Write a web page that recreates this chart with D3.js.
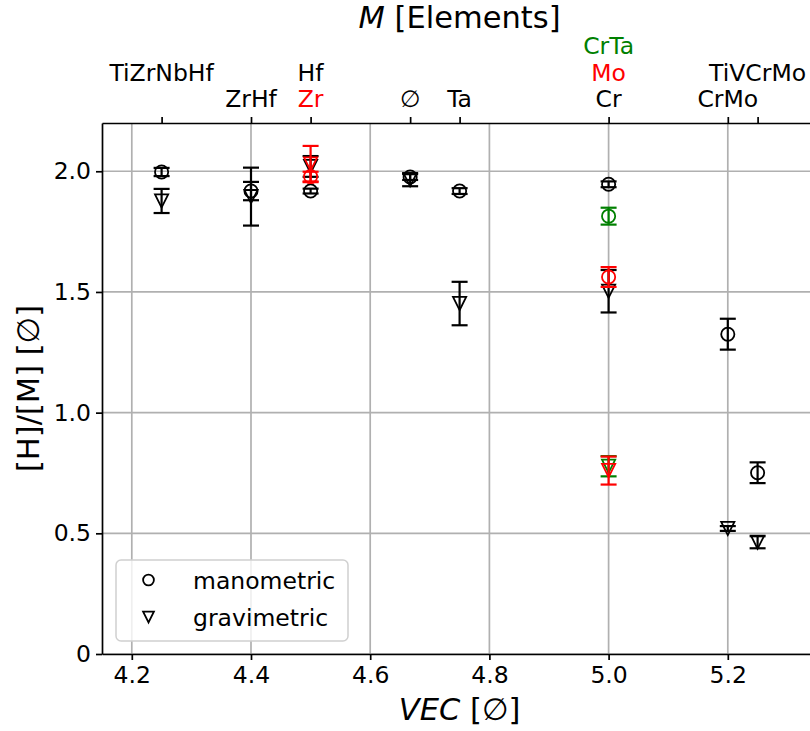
<!DOCTYPE html>
<html>
<head>
<meta charset="utf-8">
<script src="https://cdn.jsdelivr.net/npm/d3@7"></script>
<style>
  body { margin: 0; background: #fff; }
  svg { display: block; font-family: "DejaVu Sans", sans-serif; }
</style>
</head>
<body>
<svg id="chart" width="810" height="731"></svg>
<script>
// Hydrogen uptake [H]/[M] against valence electron count, per alloy element.
const elements = ['TiZrNbHf', 'ZrHf', 'Hf', 'Zr', '∅', 'Ta', 'Cr', 'Mo', 'CrTa', 'CrMo', 'TiVCrMo'];
const vec = [4.25, 4.4, 4.5, 4.5, 4.667, 4.75, 5.0, 5.0, 5.0, 5.2, 5.25];
const colors = ['black', 'black', 'black', 'red', 'black', 'black', 'black', 'red', 'green', 'black', 'black'];
const manometric = [1.997, 1.918, 1.918, 1.978, 1.976, 1.918, 1.946, 1.562, 1.814, 1.325, 0.751];
const manometricErr = [0.017, 0.038, 0.01, 0.02, 0.012, 0.012, 0.012, 0.041, 0.035, 0.064, 0.043];
const gravimetric = [1.877, 1.895, 2.02, 2.03, 1.965, 1.452, 1.503, 0.76, 0.778, 0.52, 0.463];
const gravimetricErr = [0.05, 0.12, 0.043, 0.075, 0.027, 0.09, 0.088, 0.058, 0.042, 0.01, 0.025];

const xTicks = [4.2, 4.4, 4.6, 4.8, 5.0, 5.2];
const yTicks = [0, 0.5, 1.0, 1.5, 2.0];
// top axis: one tick per VEC, labels stacked bottom-up
const topTicks = [4.25, 4.4, 4.5, 4.667, 4.75, 5.0, 5.2, 5.25];
const topLabels = [['TiZrNbHf', ''], ['ZrHf'], ['Hf', 'Zr'], ['∅'], ['Ta'], ['CrTa', 'Mo', 'Cr'], ['CrMo'], ['TiVCrMo', '']];

const svg = d3.select('#chart');
const margin = { left: 102, top: 123, bottom: 654 };
const x = d3.scaleLinear().domain([4.15, 5.35]).range([margin.left, 817.2]);
const y = d3.scaleLinear().domain([0, 2.2]).range([margin.bottom, margin.top]);

const tickFont = 23.5;
const labelFont = 30.5;
const lw = 1.7;

// grid
const grid = svg.append('g').attr('stroke', '#b0b0b0').attr('stroke-width', lw);
xTicks.forEach((t) => {
  grid.append('line').attr('x1', x(t)).attr('x2', x(t)).attr('y1', margin.top).attr('y2', margin.bottom);
});
yTicks.forEach((t) => {
  grid.append('line').attr('x1', margin.left).attr('x2', 820).attr('y1', y(t)).attr('y2', y(t));
});

// axes
function styleAxis(g) {
  g.selectAll('.domain').attr('stroke-width', lw);
  g.selectAll('.tick line').attr('stroke-width', lw);
  g.selectAll('text').attr('font-size', tickFont).attr('font-family', '"DejaVu Sans", sans-serif').attr('fill', '#000');
}

svg.append('g')
  .attr('transform', `translate(0,${margin.bottom})`)
  .call(d3.axisBottom(x).tickValues(xTicks).tickFormat(d3.format('.1f')).tickSize(6).tickPadding(6).tickSizeOuter(0))
  .call(styleAxis);

svg.append('g')
  .attr('transform', `translate(${margin.left},0)`)
  .call(d3.axisLeft(y).tickValues(yTicks).tickFormat((d) => (d === 0 ? '0' : d3.format('.1f')(d))).tickSize(6).tickPadding(5).tickSizeOuter(0))
  .call(styleAxis);

svg.append('g')
  .attr('transform', `translate(0,${margin.top})`)
  .call(d3.axisTop(x).tickValues(topTicks).tickFormat('').tickSize(6).tickSizeOuter(0))
  .call(styleAxis);

// top labels, last line sits just above the ticks
const colorOf = (name) => {
  const i = elements.indexOf(name);
  return i < 0 ? 'black' : colors[i];
};
const lineH = 26.5;
topTicks.forEach((t, i) => {
  const lines = topLabels[i];
  lines.forEach((txt, j) => {
    if (!txt) return;
    svg.append('text')
      .attr('x', x(t))
      .attr('y', 107 - (lines.length - 1 - j) * lineH)
      .attr('text-anchor', 'middle')
      .attr('font-size', tickFont)
      .attr('fill', colorOf(txt))
      .text(txt);
  });
});

// axis titles
const cx = (margin.left + 817.2) / 2;
const title = svg.append('text').attr('x', cx).attr('y', 28).attr('text-anchor', 'middle').attr('font-size', labelFont);
title.append('tspan').attr('font-style', 'italic').text('M');
title.append('tspan').text(' [Elements]');

const xl = svg.append('text').attr('x', cx).attr('y', 720).attr('text-anchor', 'middle').attr('font-size', labelFont);
xl.append('tspan').attr('font-style', 'italic').text('VEC');
xl.append('tspan').text(' [∅]');

svg.append('text')
  .attr('transform', `translate(39,${(margin.top + margin.bottom) / 2}) rotate(-90)`)
  .attr('text-anchor', 'middle')
  .attr('font-size', labelFont)
  .text('[H]/[M] [∅]');

// markers
const triDown = (s) => `M0,${s / 2}L${-s / 2},${-s / 2}L${s / 2},${-s / 2}Z`;
const markSize = 13.2;
const capHalf = 8;

function errorbar(g, xv, yv, err, color, kind) {
  const px = x(xv);
  g.append('line').attr('x1', px).attr('x2', px).attr('y1', y(yv - err)).attr('y2', y(yv + err))
    .attr('stroke', color).attr('stroke-width', 2.2);
  [yv - err, yv + err].forEach((v) => {
    g.append('line').attr('x1', px - capHalf).attr('x2', px + capHalf).attr('y1', y(v)).attr('y2', y(v))
      .attr('stroke', color).attr('stroke-width', 2.2);
  });
  if (kind === 'circle') {
    g.append('circle').attr('cx', px).attr('cy', y(yv)).attr('r', markSize / 2)
      .attr('fill', 'none').attr('stroke', color).attr('stroke-width', 1.8);
  } else {
    g.append('path').attr('transform', `translate(${px},${y(yv)})`).attr('d', triDown(markSize))
      .attr('fill', 'none').attr('stroke', color).attr('stroke-width', 1.8).attr('stroke-linejoin', 'miter');
  }
}

const plot = svg.append('g');
const order = d3.range(elements.length).sort((a, b) => {
  const rank = { black: 0, green: 1, red: 2 };
  return rank[colors[a]] - rank[colors[b]] || a - b;
});
order.forEach((i) => {
  errorbar(plot, vec[i], manometric[i], manometricErr[i], colors[i], 'circle');
  errorbar(plot, vec[i], gravimetric[i], gravimetricErr[i], colors[i], 'tri');
});

// legend
const lg = svg.append('g');
lg.append('rect').attr('x', 116).attr('y', 560).attr('width', 232).attr('height', 81).attr('rx', 5)
  .attr('fill', 'white').attr('fill-opacity', 0.8).attr('stroke', '#d0d0d0').attr('stroke-width', 1.5);
lg.append('circle').attr('cx', 148.5).attr('cy', 580).attr('r', 5.4)
  .attr('fill', 'none').attr('stroke', 'black').attr('stroke-width', 1.8);
lg.append('path').attr('transform', 'translate(148.5,617)').attr('d', triDown(10.8))
  .attr('fill', 'none').attr('stroke', 'black').attr('stroke-width', 1.8);
lg.append('text').attr('x', 193).attr('y', 589).attr('font-size', tickFont).text('manometric');
lg.append('text').attr('x', 193).attr('y', 626).attr('font-size', tickFont).text('gravimetric');
</script>
</body>
</html>
